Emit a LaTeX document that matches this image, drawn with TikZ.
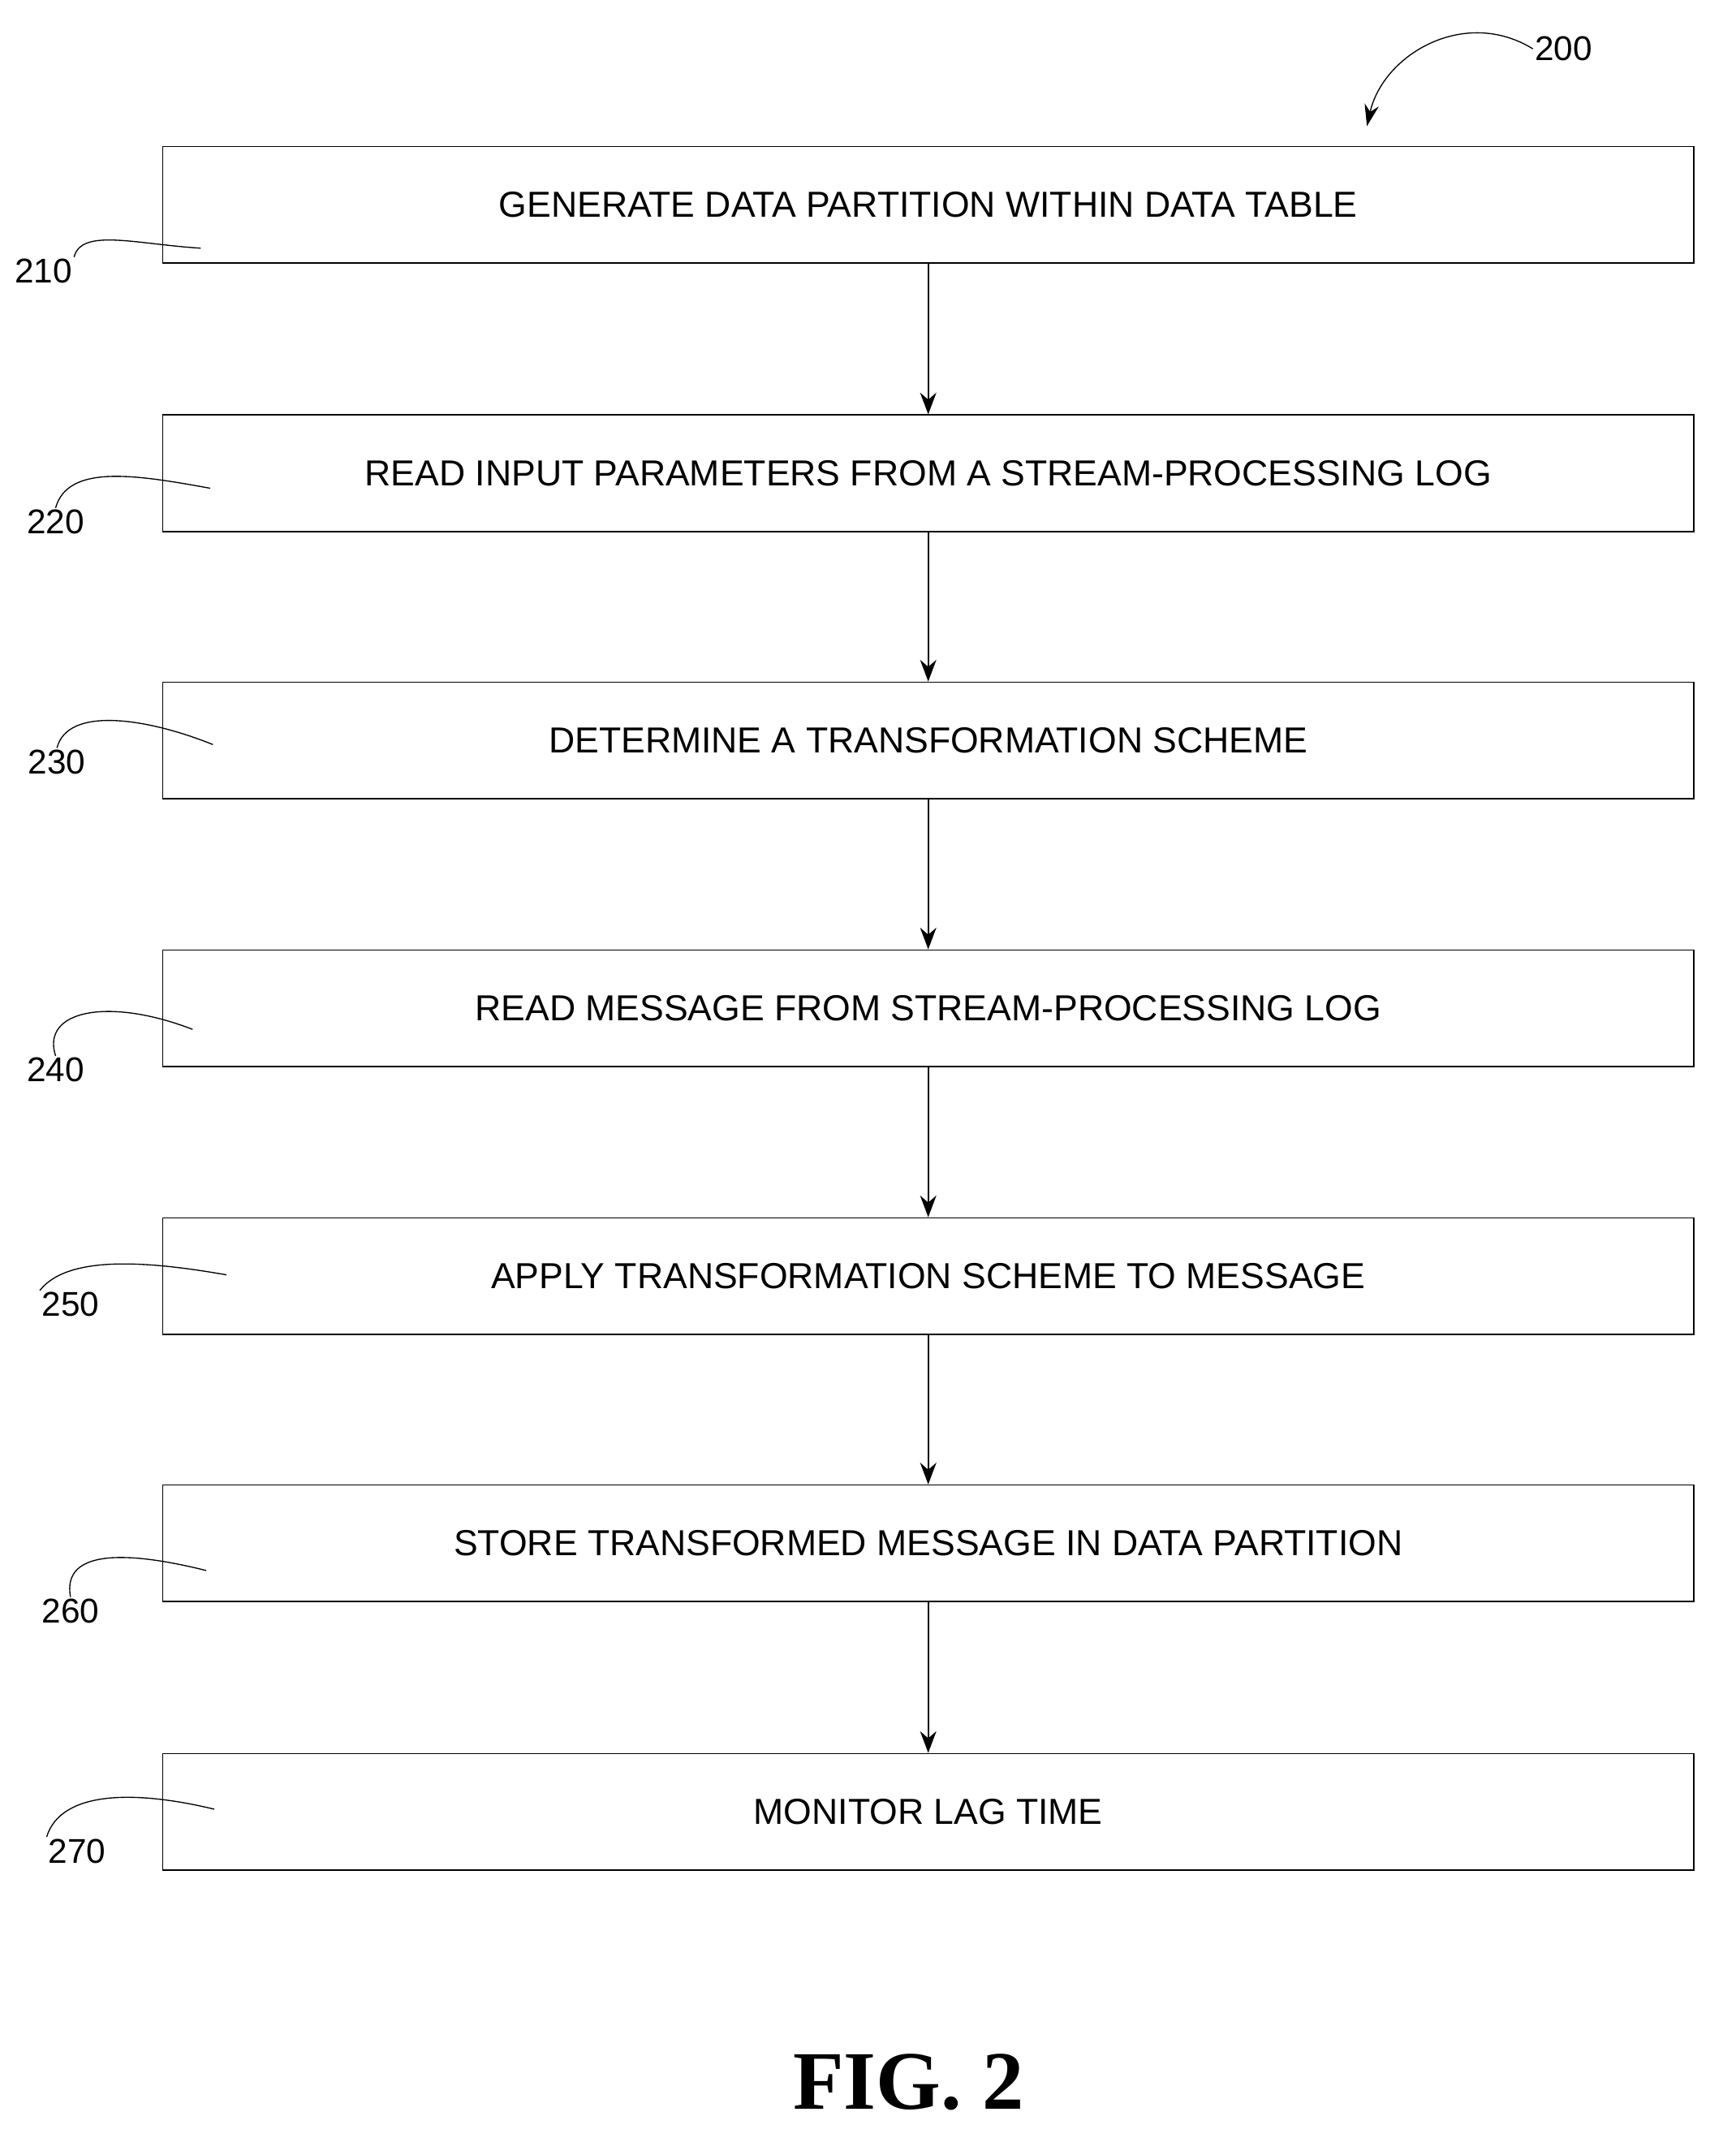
\documentclass[tikz,border=0pt]{standalone}
\usepackage{fontspec}
\setmainfont{Liberation Sans}
\newfontfamily\figfont{Liberation Serif}
\usetikzlibrary{arrows.meta}
\tikzset{every picture/.style={line width=0.75pt}}
\tikzset{stepbox/.style={draw,minimum width=846.75pt,minimum height=64.5pt,inner sep=0pt,font=\fontsize{20}{24}\selectfont},
  refnum/.style={inner sep=0.75pt,font=\fontsize{19}{22}\selectfont},
  lead/.style={line width=0.6pt}}

\begin{document}
\begin{tikzpicture}[x=0.75pt,y=0.75pt,yscale=-1,xscale=1]
\useasboundingbox (0,0) rectangle (1280,1589);

% Boxes
\node [stepbox] (s210) at (684.5,151) {GENERATE DATA PARTITION WITHIN DATA TABLE};
\node [stepbox] (s220) at (684.5,349) {READ INPUT PARAMETERS FROM A STREAM-PROCESSING LOG};
\node [stepbox] (s230) at (684.5,546) {DETERMINE A TRANSFORMATION SCHEME};
\node [stepbox] (s240) at (684.5,743.5) {READ MESSAGE FROM STREAM-PROCESSING LOG};
\node [stepbox] (s250) at (684.5,941) {APPLY TRANSFORMATION SCHEME TO MESSAGE};
\node [stepbox] (s260) at (684.5,1138) {STORE TRANSFORMED MESSAGE IN DATA PARTITION};
\node [stepbox] (s270) at (684.5,1336) {MONITOR LAG TIME};

% Arrows
\draw [-{Stealth[length=12pt,width=9pt]}] (s210) -- (s220);
\draw [-{Stealth[length=12pt,width=9pt]}] (s220) -- (s230);
\draw [-{Stealth[length=12pt,width=9pt]}] (s230) -- (s240);
\draw [-{Stealth[length=12pt,width=9pt]}] (s240) -- (s250);
\draw [-{Stealth[length=12pt,width=9pt]}] (s250) -- (s260);
\draw [-{Stealth[length=12pt,width=9pt]}] (s260) -- (s270);

% Reference numerals
\node [refnum] (n210) at (32,200) {210};
\node [refnum] (n220) at (41,385) {220};
\node [refnum] (n230) at (42,562) {230};
\node [refnum] (n240) at (41,789) {240};
\node [refnum] (n250) at (52,962) {250};
\node [refnum] (n260) at (52,1188) {260};
\node [refnum] (n270) at (57,1365) {270};
\node [refnum] (n200) at (1153,36) {200};

% Leader lines
\draw [lead] (n210.north east) .. controls (60,168) and (100,180) .. (148,183);
\draw [lead] (n220.north) .. controls (50,342) and (100,350) .. (155,360);
\draw [lead] (n230.north) .. controls (50,520) and (110,530) .. (157,549);
\draw [lead] (n240.north) .. controls (30,745) and (80,735) .. (142,759);
\draw [lead] (n250.north west) .. controls (50,925) and (110,930) .. (167,940);
\draw [lead] (n260.north) .. controls (45,1140) and (100,1145) .. (152,1158);
\draw [lead] (n270.north west) .. controls (45,1320) and (100,1320) .. (158,1334);
\draw [lead,-{Stealth[length=12pt,width=8pt]}] (n200.west) .. controls (1080,5) and (1020,40) .. (1008,93);

% Figure caption
\node [inner sep=0.75pt,font=\figfont\bfseries\fontsize{46}{50}\selectfont] (cap) at (670,1535) {FIG. 2};
\end{tikzpicture}
\end{document}
